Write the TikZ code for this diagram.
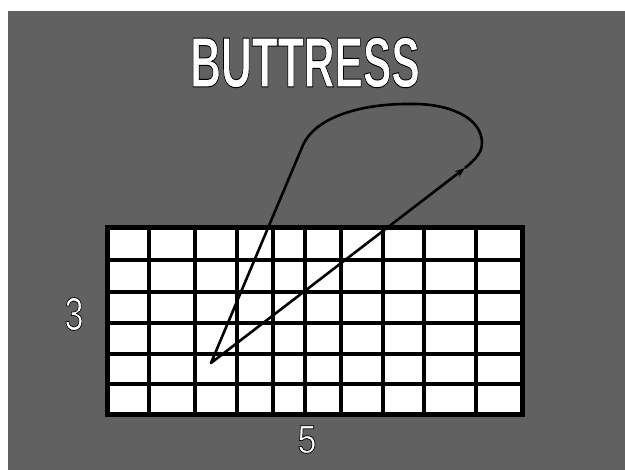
\documentclass[tikz,border=0pt]{standalone}
\usepackage{fontspec}
\setmainfont{Liberation Sans}
\usetikzlibrary{arrows.meta}
\definecolor{bg}{RGB}{97,97,97}
\newcommand\outlinedtext[2]{\special{pdf:literal direct 0 0 0 RG #1 w 2 Tr}#2\special{pdf:literal direct 0 Tr}}
\begin{document}
\begin{tikzpicture}[x=1pt,y=-1pt,
  gridline/.style={black,line width=4pt},
  loopline/.style={black,line width=2.6pt,line join=round},
  label/.style={white,inner sep=0pt,anchor=base}]
\useasboundingbox (0,0) rectangle (625,470);
\fill[white] (0,0) rectangle (625,470);
\fill[bg] (8,11) rectangle (625,470);
% grid
\fill[white] (107,228) rectangle (522,415);
\foreach \x in {149,195,237,273,305,341,383,424,476}
  \draw[gridline] (\x,228) -- (\x,415);
\foreach \y in {260,292,323,354,384}
  \draw[gridline] (107,\y) -- (522,\y);
\draw[gridline,line width=5pt] (107,228) rectangle (522,415);
% texts
\node[label] (title) at (305,87) {\scalebox{0.6}[1]{\fontsize{71}{71}\selectfont\bfseries\outlinedtext{1.0}{BUTTRESS}}};
\node[label] (three) at (74,330) {\scalebox{0.73}[1]{\fontsize{46.5}{46.5}\selectfont\outlinedtext{0.8}{3}}};
\node[label] (five) at (307,453) {\scalebox{0.86}[1]{\fontsize{39.5}{39.5}\selectfont\outlinedtext{0.8}{5}}};
% loop
\coordinate (A) at (465,168);
\coordinate (R) at (482,143);
\coordinate (T) at (414,104);
\coordinate (L) at (303,145);
\coordinate (S) at (211,363);
\draw[loopline,-{Stealth[length=10pt,width=7pt]}]
  (A) .. controls (476,159) and (482,152) .. (R)
      .. controls (482,118) and (450,104) .. (T)
      .. controls (355,103) and (314,120) .. (L)
      -- (S) -- (A);
\end{tikzpicture}
\end{document}
